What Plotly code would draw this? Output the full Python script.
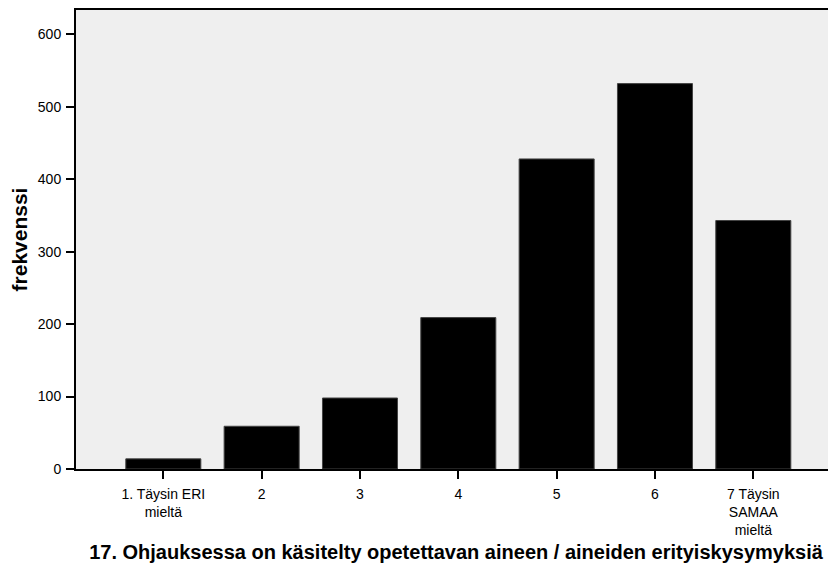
import plotly.graph_objects as go

categories = ["1. Täysin ERI<br>mieltä", "2", "3", "4", "5", "6", "7 Täysin<br>SAMAA<br>mieltä"]
frequencies = [14, 59, 98, 209, 428, 532, 343]
y_ticks = [0, 100, 200, 300, 400, 500, 600]
x_title = "17. Ohjauksessa on käsitelty opetettavan aineen / aineiden erityiskysymyksiä"
y_title = "frekvenssi"

FONT = "Liberation Sans, Arial, sans-serif"

fig = go.Figure(
    go.Bar(
        x=categories,
        y=frequencies,
        marker=dict(color="#000000", line=dict(color="#444444", width=1)),
        hoverinfo="x+y",
    )
)

# The page body has an 8px default margin, so the figure is sized to fit
fig.update_layout(
    width=828,
    height=555,
    margin=dict(l=68, r=0, t=2, b=94),
    paper_bgcolor="white",
    plot_bgcolor="#EFEFEF",
    bargap=0.237,
    showlegend=False,
    font=dict(family=FONT, color="black", size=14),
)

fig.update_xaxes(
    type="category",
    range=[-0.888, 6.841],
    showline=True,
    linecolor="black",
    linewidth=2,
    mirror=True,
    ticks="outside",
    ticklen=8,
    tickwidth=2,
    tickcolor="black",
    showgrid=False,
    zeroline=False,
    tickfont=dict(size=14, family=FONT),
    ticklabelstandoff=3,
    title=dict(text="<b>" + x_title + "</b>", font=dict(size=20, family=FONT), standoff=14),
    automargin=False,
)

fig.update_yaxes(
    range=[0, 633.6],
    tickvals=y_ticks,
    showline=True,
    linecolor="black",
    linewidth=2,
    ticks="outside",
    ticklen=8,
    tickwidth=2,
    tickcolor="black",
    showgrid=False,
    zeroline=False,
    tickfont=dict(size=14, family=FONT),
    ticklabelstandoff=2,
    title=dict(text="<b>" + y_title + "</b>", font=dict(size=21, family=FONT), standoff=6),
    automargin=False,
)

fig.write_html("out.html")
